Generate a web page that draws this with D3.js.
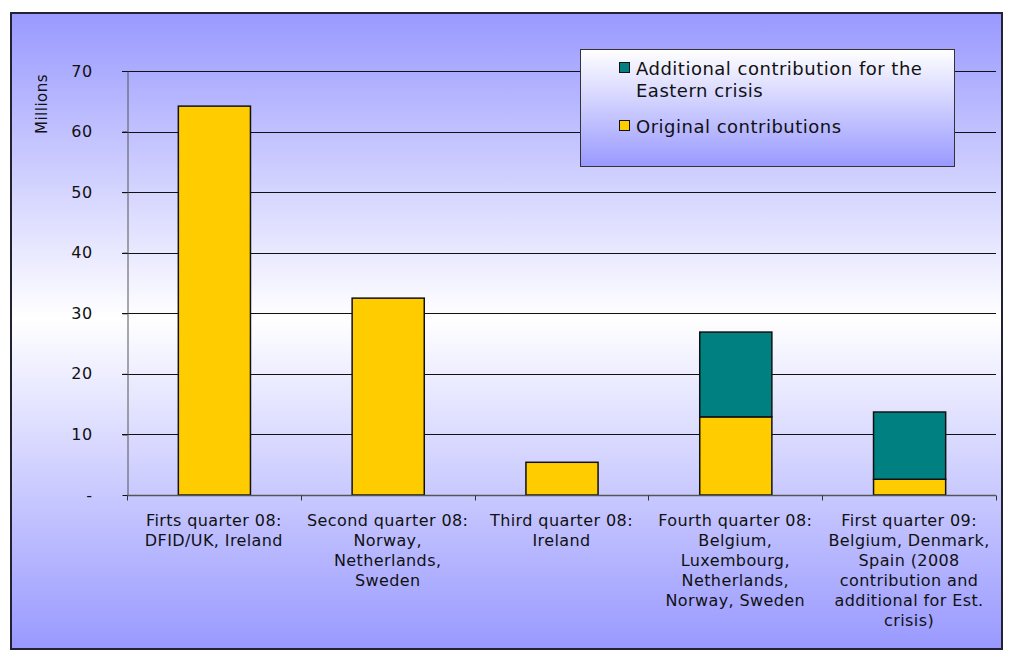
<!DOCTYPE html>
<html>
<head>
<meta charset="utf-8">
<script src="https://cdn.jsdelivr.net/npm/d3@7"></script>
<style>
  html, body { margin: 0; padding: 0; background: #fff; }
  svg { display: block; font-family: Verdana, "DejaVu Sans", sans-serif; }
</style>
</head>
<body>
<svg id="chart" width="1009" height="652"></svg>
<script>
// Quarterly contributions (millions)
const categories = [
  ["Firts quarter 08:", "DFID/UK, Ireland"],
  ["Second quarter 08:", "Norway,", "Netherlands,", "Sweden"],
  ["Third quarter 08:", "Ireland"],
  ["Fourth quarter 08:", "Belgium,", "Luxembourg,", "Netherlands,", "Norway, Sweden"],
  ["First quarter 09:", "Belgium, Denmark,", "Spain (2008", "contribution and", "additional for Est.", "crisis)"]
];
const original   = [64.2, 32.5, 5.4, 12.9, 2.6];
const additional = [0, 0, 0, 14.0, 11.1];
const yTicks = [0, 10, 20, 30, 40, 50, 60, 70];
const seriesNames = ["Additional contribution for the Eastern crisis", "Original contributions"];

const colors = { original: "#FFCC00", additional: "#008080" };

const svg = d3.select("#chart");
const defs = svg.append("defs");

// Frame background: blue at top and bottom, white through the middle
const bg = defs.append("linearGradient").attr("id", "bgGrad")
  .attr("x1", 0).attr("y1", 0).attr("x2", 0).attr("y2", 1);
bg.append("stop").attr("offset", "0%").attr("stop-color", "#9999ff");
bg.append("stop").attr("offset", "48%").attr("stop-color", "#ffffff");
bg.append("stop").attr("offset", "100%").attr("stop-color", "#9999ff");

// Legend background: white at top fading to blue
const lg = defs.append("linearGradient").attr("id", "legGrad")
  .attr("x1", 0).attr("y1", 0).attr("x2", 0).attr("y2", 1);
lg.append("stop").attr("offset", "0%").attr("stop-color", "#ffffff");
lg.append("stop").attr("offset", "100%").attr("stop-color", "#9999ff");

svg.append("rect")
  .attr("x", 11).attr("y", 13).attr("width", 991).attr("height", 636)
  .attr("fill", "url(#bgGrad)")
  .attr("stroke", "#222233").attr("stroke-width", 2);

const plot = { left: 127, right: 996, top: 71, bottom: 495 };
const labelFont = 16, labelSpacing = 0.4;

const x = d3.scaleBand()
  .domain(d3.range(categories.length))
  .range([plot.left, plot.right])
  .paddingInner(0.585).paddingOuter(0.2925);

const xOuter = d3.scaleBand()
  .domain(d3.range(categories.length))
  .range([plot.left, plot.right]);

const y = d3.scaleLinear().domain([0, 70]).range([plot.bottom, plot.top]);

// Horizontal gridlines
svg.append("g").selectAll("line")
  .data(yTicks.filter(d => d > 0))
  .join("line")
  .attr("x1", plot.left - 5).attr("x2", plot.right)
  .attr("y1", d => Math.round(y(d)) + 0.5).attr("y2", d => Math.round(y(d)) + 0.5)
  .attr("stroke", "#111").attr("stroke-width", 1);

// Y axis
const yAxis = svg.append("g")
  .attr("transform", `translate(${plot.left + 0.5},0)`)
  .call(d3.axisLeft(y).tickValues(yTicks).tickSize(5).tickSizeOuter(0)
    .tickFormat(d => d === 0 ? "-" : d));
yAxis.select(".domain").attr("stroke", "#555");
yAxis.selectAll(".tick line").attr("stroke", "#111");
yAxis.selectAll(".tick text")
  .attr("x", -35)
  .attr("font-size", labelFont).attr("letter-spacing", labelSpacing)
  .attr("font-family", "Verdana, 'DejaVu Sans', sans-serif")
  .attr("fill", "#111");

// Axis title
svg.append("text")
  .attr("transform", "translate(47,104) rotate(-90)")
  .attr("text-anchor", "middle")
  .attr("font-size", 15).attr("letter-spacing", 0.5)
  .attr("fill", "#111")
  .text("Millions");

// Stacked bars
const stackData = categories.map((c, i) => ({ i, original: original[i], additional: additional[i] }));
const series = d3.stack().keys(["original", "additional"])(stackData);

svg.append("g").selectAll("g")
  .data(series)
  .join("g")
  .attr("fill", d => colors[d.key])
  .selectAll("rect")
  .data(d => d.filter(p => p[1] - p[0] > 0))
  .join("rect")
  .attr("x", p => x(p.data.i) + 0.5)
  .attr("width", x.bandwidth())
  .attr("y", p => y(p[1]))
  .attr("height", p => y(p[0]) - y(p[1]))
  .attr("stroke", "#111").attr("stroke-width", 1.5);

// X axis with boundary ticks
const xAxisG = svg.append("g").attr("transform", `translate(0,${plot.bottom + 0.5})`);
xAxisG.append("line")
  .attr("x1", plot.left).attr("x2", plot.right)
  .attr("stroke", "#555").attr("stroke-width", 1.5);
xAxisG.selectAll("line.bt")
  .data(d3.range(categories.length + 1))
  .join("line").attr("class", "bt")
  .attr("x1", i => Math.round(i < categories.length ? xOuter(i) : plot.right) + 0.5)
  .attr("x2", i => Math.round(i < categories.length ? xOuter(i) : plot.right) + 0.5)
  .attr("y1", 0).attr("y2", 5)
  .attr("stroke", "#333");

// Category labels
const labels = svg.append("g");
categories.forEach((lines, i) => {
  const cx = xOuter(i) + xOuter.bandwidth() / 2;
  const t = labels.append("text")
    .attr("x", cx)
    .attr("y", 526)
    .attr("text-anchor", "middle")
    .attr("font-size", labelFont).attr("letter-spacing", labelSpacing)
    .attr("fill", "#111");
  lines.forEach((ln, k) => {
    t.append("tspan")
      .attr("x", cx)
      .attr("dy", k === 0 ? 0 : 20)
      .text(ln);
  });
});

// Legend
const legend = svg.append("g");
legend.append("rect")
  .attr("x", 580.5).attr("y", 49.5).attr("width", 374).attr("height", 117)
  .attr("fill", "url(#legGrad)")
  .attr("stroke", "#333").attr("stroke-width", 1);

const legendItems = [
  { color: colors.additional, lines: ["Additional contribution for the", "Eastern crisis"], y: 62 },
  { color: colors.original, lines: ["Original contributions"], y: 120 }
];
legendItems.forEach(item => {
  legend.append("rect")
    .attr("x", 619.5).attr("y", item.y + 0.5).attr("width", 10).attr("height", 10)
    .attr("fill", item.color).attr("stroke", "#111").attr("stroke-width", 1);
  const t = legend.append("text")
    .attr("x", 636).attr("y", item.y + 13)
    .attr("font-size", 18).attr("letter-spacing", 0.5).attr("fill", "#111");
  item.lines.forEach((ln, k) => {
    t.append("tspan").attr("x", 636).attr("dy", k === 0 ? 0 : 22).text(ln);
  });
});
</script>
</body>
</html>
